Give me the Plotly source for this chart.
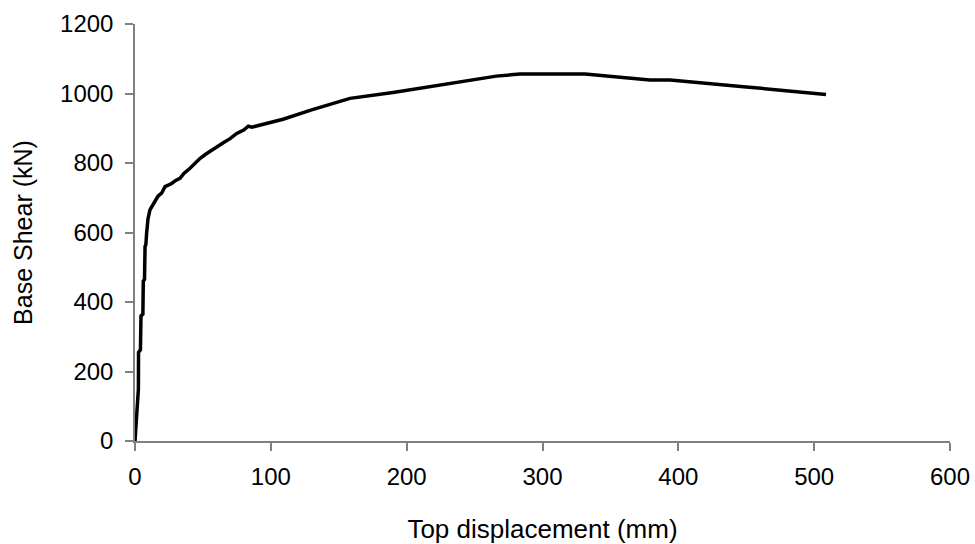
import plotly.graph_objects as go

# Pushover curve: top displacement (mm) vs base shear (kN)
displacement_mm = [0, 0.5, 1.0, 1.5, 2.0, 2.5, 2.6, 4.0, 4.4, 5.8, 6.1, 7.0, 7.4, 8.0, 8.6,
                   9.1, 9.6, 11, 13, 14.7, 17, 19.6, 22.1, 27, 30, 33.1, 36, 40.5, 44, 47.8,
                   52, 56.4, 60, 65, 70, 74.9, 80, 83.4, 86, 95, 109, 130, 158.3, 190, 224.5,
                   266, 283.4, 331.3, 379, 394, 450, 508.7]
base_shear_kN = [0, 30, 60, 90, 120, 150, 255, 262, 360, 365, 460, 465, 560, 565, 600,
                 617, 640, 665, 680, 690, 705, 713, 732, 741, 750, 756, 770, 785, 800, 813,
                 825, 837, 845, 858, 870, 885, 895, 906, 903, 913, 926, 953, 986, 1003, 1024,
                 1050, 1056, 1056, 1039, 1039, 1019, 997]

x_ticks = [0, 100, 200, 300, 400, 500, 600]
y_ticks = [0, 200, 400, 600, 800, 1000, 1200]

FONT = "Liberation Sans, Arial, sans-serif"
AXIS_GRAY = "#808080"

fig = go.Figure()
fig.add_trace(go.Scatter(
    x=displacement_mm, y=base_shear_kN, mode="lines",
    line=dict(color="black", width=3.5), showlegend=False,
))

common_axis = dict(
    showline=True, linecolor=AXIS_GRAY, linewidth=1.5,
    ticks="outside", ticklen=8, tickcolor=AXIS_GRAY, tickwidth=1.5,
    showgrid=False, zeroline=False, automargin=False,
    tickfont=dict(family=FONT, size=24, color="black"),
)

fig.update_layout(
    width=975, height=544,
    margin=dict(l=135, r=25, t=24, b=103),
    paper_bgcolor="white", plot_bgcolor="white",
    font=dict(family=FONT, color="black"),
    xaxis=dict(range=[0, 600], tickvals=x_ticks, ticklabelstandoff=5,
               title=dict(text="Top displacement (mm)", font=dict(family=FONT, size=26), standoff=31),
               **common_axis),
    yaxis=dict(range=[0, 1200], tickvals=y_ticks, ticklabelstandoff=7,
               title=dict(text="Base Shear (kN)", font=dict(family=FONT, size=25), standoff=20),
               **common_axis),
)

fig.write_html("out.html")
